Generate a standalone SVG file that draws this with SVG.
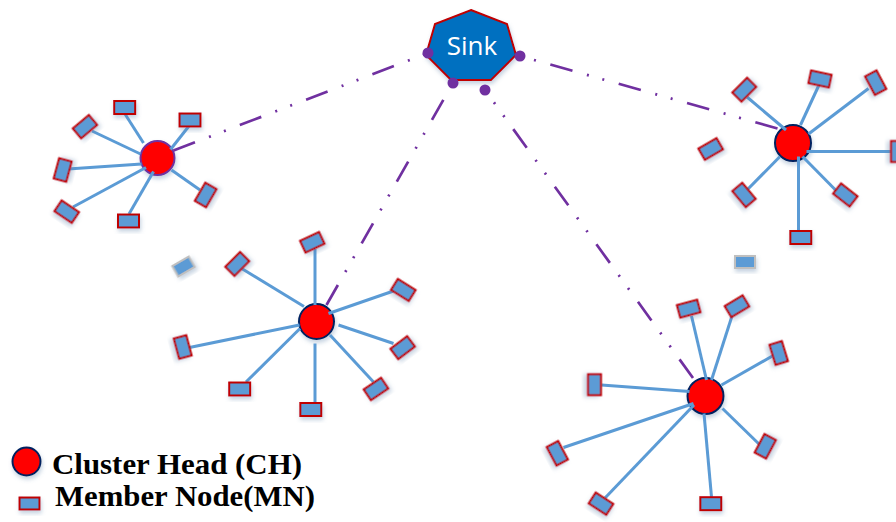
<svg xmlns="http://www.w3.org/2000/svg" width="896" height="522" viewBox="0 0 896 522">
  <defs>
    <filter id="soft" x="-50%" y="-50%" width="200%" height="200%">
      <feDropShadow dx="1" dy="3" stdDeviation="2" flood-color="#5B7FA8" flood-opacity="0.35"/>
    </filter>
    <style>
      .ch { fill: #FF0000; stroke: #002060; stroke-width: 2; }
      .mn { fill: #5B9BD5; stroke: #C00000; stroke-width: 2; }
      .idle { fill: #5B9BD5; stroke: #BFBFBF; stroke-width: 2; }
      .link { stroke: #5B9BD5; stroke-width: 3; fill: none; }
      .uplink { stroke: #7030A0; stroke-width: 2.7; fill: none; stroke-dasharray: 23 15 2 14 2 15; }
      .port { fill: #7030A0; }
      .legend { font-family: "Liberation Serif", "Times New Roman", serif; font-weight: bold; font-size: 29px; fill: #000; }
    </style>
  </defs>
  <rect width="896" height="522" fill="#FFFFFF"/>

  <!-- cluster heads -->
  <g id="ch1" filter="url(#soft)"><circle class="ch" cx="157.5" cy="158" r="17" style="stroke:#7030A0"/></g>
  <g id="ch2" filter="url(#soft)"><circle class="ch" cx="316.5" cy="321.5" r="17.5"/></g>
  <g id="ch3" filter="url(#soft)"><circle class="ch" cx="793" cy="143" r="18"/></g>
  <g id="ch4" filter="url(#soft)"><circle class="ch" cx="705.5" cy="396" r="18"/></g>

  <!-- connectors -->
  <g id="connectors">
    <!-- cluster 1 links -->
    <line class="link" x1="125" y1="114" x2="143.5" y2="143"/>
    <line class="link" x1="92" y1="131" x2="140.5" y2="154"/>
    <line class="link" x1="189" y1="126" x2="170.5" y2="149.5"/>
    <line class="link" x1="68" y1="169" x2="141.5" y2="164"/>
    <line class="link" x1="73" y1="207" x2="146" y2="167.5"/>
    <line class="link" x1="129" y1="214" x2="153.5" y2="171.5"/>
    <line class="link" x1="200" y1="190" x2="171.5" y2="170"/>
    <!-- cluster 2 links -->
    <line class="link" x1="315" y1="249" x2="315" y2="305"/>
    <line class="link" x1="240" y1="267.5" x2="304" y2="306.5"/>
    <line class="link" x1="393.5" y1="291" x2="328.5" y2="313.5"/>
    <line class="link" x1="189.5" y1="347.5" x2="299.5" y2="325"/>
    <line class="link" x1="393.5" y1="343.5" x2="338.5" y2="325"/>
    <line class="link" x1="246" y1="382" x2="300" y2="328.5"/>
    <line class="link" x1="373.5" y1="382" x2="330" y2="335"/>
    <line class="link" x1="315" y1="343.5" x2="315" y2="403"/>
    <!-- cluster 3 links -->
    <line class="link" x1="747" y1="97" x2="786" y2="130"/>
    <line class="link" x1="819" y1="85" x2="800.5" y2="125"/>
    <line class="link" x1="868.5" y1="88.5" x2="808.5" y2="134"/>
    <line class="link" x1="806.5" y1="151.5" x2="896" y2="151.5"/>
    <line class="link" x1="747" y1="190" x2="780" y2="156.5"/>
    <line class="link" x1="837" y1="191.5" x2="802.5" y2="156.5"/>
    <line class="link" x1="798.5" y1="156.5" x2="798.5" y2="231"/>
    <!-- cluster 4 links -->
    <line class="link" x1="691.5" y1="316" x2="706.5" y2="380"/>
    <line class="link" x1="732" y1="316" x2="711.5" y2="380"/>
    <line class="link" x1="775" y1="354.5" x2="721.5" y2="385"/>
    <line class="link" x1="601.5" y1="385" x2="689.5" y2="391.5"/>
    <line class="link" x1="563.5" y1="447.5" x2="693.5" y2="403.5"/>
    <line class="link" x1="760" y1="445" x2="722.5" y2="408.5"/>
    <line class="link" x1="605" y1="498" x2="694" y2="405"/>
    <line class="link" x1="711.5" y1="497" x2="704" y2="413.5"/>
    <!-- uplinks from cluster heads to the sink -->
    <line class="uplink" x1="173.5" y1="150.5" x2="428" y2="53"/>
    <line class="uplink" x1="326.5" y1="305" x2="453" y2="83"/>
    <line class="uplink" x1="777.5" y1="128.5" x2="520" y2="56"/>
    <line class="uplink" x1="693" y1="378" x2="485" y2="90"/>
  </g>

  <!-- member nodes, cluster 1 -->
  <g id="m1a" filter="url(#soft)" transform="translate(124.7,107.5)"><rect class="mn" x="-10.5" y="-6.5" width="21" height="13"/></g>
  <g id="m1b" filter="url(#soft)" transform="translate(85,126.7) rotate(-40)"><rect class="mn" x="-10.5" y="-6.5" width="21" height="13"/></g>
  <g id="m1c" filter="url(#soft)" transform="translate(190,120)"><rect class="mn" x="-10.5" y="-6.5" width="21" height="13"/></g>
  <g id="m1d" filter="url(#soft)" transform="translate(62.7,170) rotate(-75)"><rect class="mn" x="-10.5" y="-6.5" width="21" height="13"/></g>
  <g id="m1e" filter="url(#soft)" transform="translate(66.7,211.7) rotate(34)"><rect class="mn" x="-10.5" y="-6.5" width="21" height="13"/></g>
  <g id="m1f" filter="url(#soft)" transform="translate(128.5,221)"><rect class="mn" x="-10.5" y="-6.5" width="21" height="13"/></g>
  <g id="m1g" filter="url(#soft)" transform="translate(205.7,195) rotate(-60)"><rect class="mn" x="-10.5" y="-6.5" width="21" height="13"/></g>

  <!-- member nodes, cluster 2 -->
  <g id="m2a" filter="url(#soft)" transform="translate(312.3,242.3) rotate(-25)"><rect class="mn" x="-10.5" y="-6.5" width="21" height="13"/></g>
  <g id="m2b" filter="url(#soft)" transform="translate(237.3,264) rotate(-45)"><rect class="mn" x="-10.5" y="-6.5" width="21" height="13"/></g>
  <g id="m2c" filter="url(#soft)" transform="translate(403.3,290) rotate(32)"><rect class="mn" x="-10.5" y="-6.5" width="21" height="13"/></g>
  <g id="m2d" filter="url(#soft)" transform="translate(182.7,347) rotate(75)"><rect class="mn" x="-10.5" y="-6.5" width="21" height="13"/></g>
  <g id="m2e" filter="url(#soft)" transform="translate(402.7,347.7) rotate(-37)"><rect class="mn" x="-10.5" y="-6.5" width="21" height="13"/></g>
  <g id="m2f" filter="url(#soft)" transform="translate(239.7,389)"><rect class="mn" x="-10.5" y="-6.5" width="21" height="13"/></g>
  <g id="m2g" filter="url(#soft)" transform="translate(376,389) rotate(-34)"><rect class="mn" x="-10.5" y="-6.5" width="21" height="13"/></g>
  <g id="m2h" filter="url(#soft)" transform="translate(310.8,409.5)"><rect class="mn" x="-10.5" y="-6.5" width="21" height="13"/></g>

  <!-- member nodes, cluster 3 -->
  <g id="m3a" filter="url(#soft)" transform="translate(744.3,89.7) rotate(-45)"><rect class="mn" x="-10.5" y="-6.5" width="21" height="13"/></g>
  <g id="m3b" filter="url(#soft)" transform="translate(820,79) rotate(12)"><rect class="mn" x="-10.5" y="-6.5" width="21" height="13"/></g>
  <g id="m3c" filter="url(#soft)" transform="translate(875.7,82.7) rotate(62)"><rect class="mn" x="-10.5" y="-6.5" width="21" height="13"/></g>
  <g id="m3d" filter="url(#soft)" transform="translate(710.7,149) rotate(-30)"><rect class="mn" x="-10.5" y="-6.5" width="21" height="13"/></g>
  <g id="m3e" filter="url(#soft)" transform="translate(897.5,151.5) rotate(90)"><rect class="mn" x="-10.5" y="-6.5" width="21" height="13"/></g>
  <g id="m3f" filter="url(#soft)" transform="translate(744,195) rotate(50)"><rect class="mn" x="-10.5" y="-6.5" width="21" height="13"/></g>
  <g id="m3g" filter="url(#soft)" transform="translate(845.3,195) rotate(38)"><rect class="mn" x="-10.5" y="-6.5" width="21" height="13"/></g>
  <g id="m3h" filter="url(#soft)" transform="translate(800.8,237.5)"><rect class="mn" x="-10.5" y="-6.5" width="21" height="13"/></g>

  <!-- member nodes, cluster 4 -->
  <g id="m4a" filter="url(#soft)" transform="translate(688.7,308.7) rotate(-15)"><rect class="mn" x="-10.5" y="-6.5" width="21" height="13"/></g>
  <g id="m4b" filter="url(#soft)" transform="translate(737,306.3) rotate(-31)"><rect class="mn" x="-10.5" y="-6.5" width="21" height="13"/></g>
  <g id="m4c" filter="url(#soft)" transform="translate(778.7,353) rotate(73)"><rect class="mn" x="-10.5" y="-6.5" width="21" height="13"/></g>
  <g id="m4d" filter="url(#soft)" transform="translate(594.5,384.7) rotate(90)"><rect class="mn" x="-10.5" y="-6.5" width="21" height="13"/></g>
  <g id="m4e" filter="url(#soft)" transform="translate(557.3,453.3) rotate(62)"><rect class="mn" x="-10.5" y="-6.5" width="21" height="13"/></g>
  <g id="m4f" filter="url(#soft)" transform="translate(765.3,446.3) rotate(-62)"><rect class="mn" x="-10.5" y="-6.5" width="21" height="13"/></g>
  <g id="m4g" filter="url(#soft)" transform="translate(601,503.7) rotate(33)"><rect class="mn" x="-10.5" y="-6.5" width="21" height="13"/></g>
  <g id="m4h" filter="url(#soft)" transform="translate(710.8,503.7)"><rect class="mn" x="-10.5" y="-6.5" width="21" height="13"/></g>

  <!-- unattached nodes -->
  <g id="idle1" filter="url(#soft)" transform="translate(183.5,266.5) rotate(-30)"><rect class="idle" x="-9.5" y="-6" width="19" height="12"/></g>
  <g id="idle2" filter="url(#soft)" transform="translate(745,262)"><rect class="idle" x="-10" y="-6" width="20" height="12"/></g>

  <!-- sink -->
  <g id="sink">
    <polygon points="471,10 507,24 516,55 491,80 451,80 426,55 435,24" fill="#0070C0" stroke="#C00000" stroke-width="2" filter="url(#soft)"/>
    <text x="472" y="55" text-anchor="middle" font-family="'Open Sans', 'Liberation Sans', sans-serif" font-size="26" fill="#FFFFFF">Sink</text>
    <circle class="port" cx="428" cy="53" r="5.5"/>
    <circle class="port" cx="520" cy="56" r="5.5"/>
    <circle class="port" cx="453" cy="83" r="5.5"/>
    <circle class="port" cx="485" cy="90" r="5.5"/>
  </g>

  <!-- legend -->
  <g id="legend">
    <circle class="ch" cx="26.5" cy="461.5" r="14" filter="url(#soft)"/>
    <text class="legend" x="52" y="474" textLength="250" lengthAdjust="spacingAndGlyphs">Cluster Head (CH)</text>
    <rect class="mn" x="19.5" y="497.5" width="20" height="12" filter="url(#soft)"/>
    <text class="legend" x="55" y="506" textLength="260" lengthAdjust="spacingAndGlyphs">Member Node(MN)</text>
  </g>
</svg>
